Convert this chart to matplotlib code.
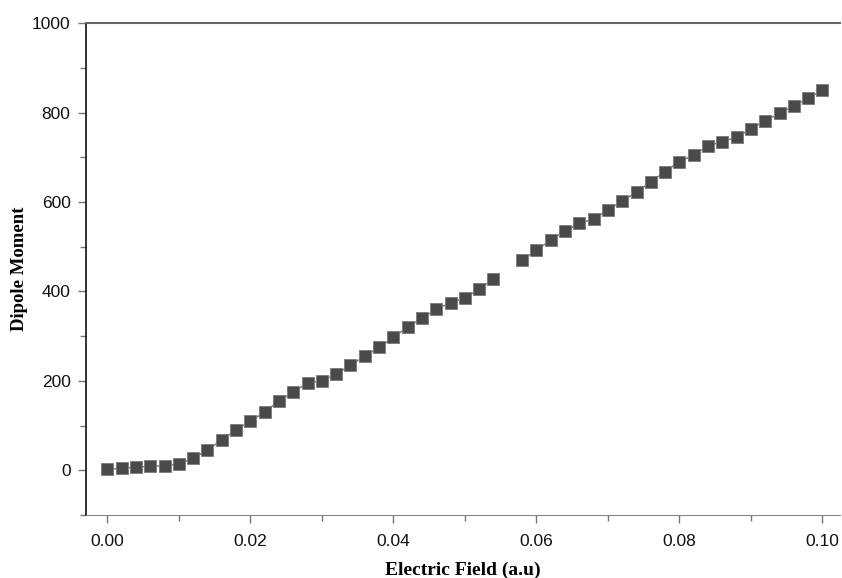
import numpy as np
import matplotlib
matplotlib.use("Agg")
import matplotlib.pyplot as plt
from matplotlib.ticker import MultipleLocator, FormatStrFormatter

electric_field = [0.000, 0.002, 0.004, 0.006, 0.008, 0.010, 0.012, 0.014, 0.016, 0.018,
                  0.020, 0.022, 0.024, 0.026, 0.028, 0.030, 0.032, 0.034, 0.036, 0.038,
                  0.040, 0.042, 0.044, 0.046, 0.048, 0.050, 0.052, 0.054, 0.056, 0.058,
                  0.060, 0.062, 0.064, 0.066, 0.068, 0.070, 0.072, 0.074, 0.076, 0.078,
                  0.080, 0.082, 0.084, 0.086, 0.088, 0.090, 0.092, 0.094, 0.096, 0.098,
                  0.100]
dipole_moment = [2, 4, 7, 9, 10, 14, 27, 45, 68, 90,
                 110, 130, 155, 175, 195, 200, 215, 235, 255, 275,
                 297, 320, 340, 360, 375, 385, 405, 428, None, 470,
                 492, 515, 535, 552, 562, 582, 602, 622, 645, 668,
                 690, 705, 725, 735, 745, 763, 782, 798, 815, 832,
                 850]

x = np.array(electric_field, dtype=float)
y = np.array([np.nan if v is None else v for v in dipole_moment], dtype=float)

fig = plt.figure(figsize=(8.42, 5.78), dpi=100)
ax = fig.add_axes([0.102, 0.109, 0.896, 0.851])

ax.plot(x, y, '-', color='#777777', lw=1.0, zorder=2)
ax.plot(x, y, 's', color='#4a4a4a', markersize=8.5, markeredgecolor='#7a7a7a',
        markeredgewidth=0.6, linestyle='none', zorder=3)

ax.set_xlim(-0.003, 0.1025)
ax.set_ylim(-100, 1000)
ax.xaxis.set_major_locator(MultipleLocator(0.02))
ax.xaxis.set_minor_locator(MultipleLocator(0.01))
ax.yaxis.set_major_locator(MultipleLocator(200))
ax.yaxis.set_minor_locator(MultipleLocator(100))
ax.xaxis.set_major_formatter(FormatStrFormatter('%.2f'))

ax.spines['right'].set_visible(False)
ax.spines['top'].set_color('#666666')
ax.spines['top'].set_linewidth(1.5)
ax.spines['bottom'].set_color('#888888')
ax.spines['left'].set_color('#111111')
ax.spines['left'].set_linewidth(1.2)

ax.tick_params(axis='both', which='major', direction='out', length=6, width=1,
               color='#777777', labelsize=12.5, labelcolor='#111111')
ax.tick_params(axis='x', which='major', pad=8)
ax.tick_params(axis='y', which='major', pad=5)
ax.tick_params(axis='both', which='minor', direction='out', length=4, width=1,
               color='#777777')
for lab in ax.get_xticklabels() + ax.get_yticklabels():
    lab.set_fontfamily('Liberation Sans')

ax.set_xlabel('Electric Field (a.u)', fontfamily='Liberation Serif', fontweight='bold',
              fontsize=14, labelpad=9)
ax.set_ylabel('Dipole Moment', fontfamily='Liberation Serif', fontweight='bold',
              fontsize=13.5, labelpad=3)

fig.savefig('out.png', dpi=100)
